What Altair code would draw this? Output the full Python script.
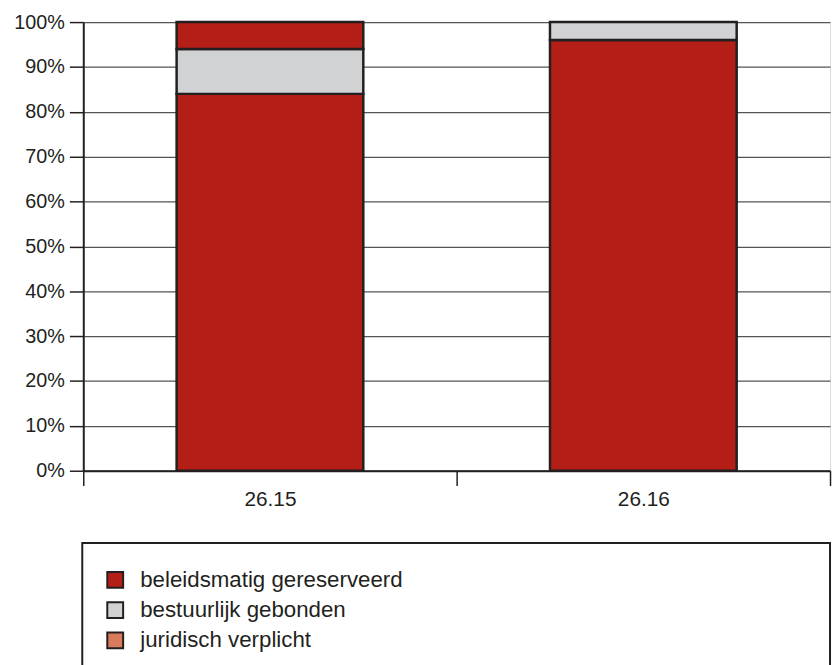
import altair as alt
import pandas as pd

categories = ["26.15", "26.16"]
series = ["beleidsmatig gereserveerd", "bestuurlijk gebonden", "juridisch verplicht"]
colors = ["#b31f17", "#d1d2d4", "#d97a5c"]

seg_bar = ["26.15", "26.15", "26.15", "26.16", "26.16"]
seg_series = ["beleidsmatig gereserveerd", "bestuurlijk gebonden", "beleidsmatig gereserveerd",
              "beleidsmatig gereserveerd", "bestuurlijk gebonden"]
seg_value = [84, 10, 6, 96, 4]
seg_order = [1, 2, 3, 1, 2]
y_ticks = list(range(0, 101, 10))

df = pd.DataFrame({"bar": seg_bar, "serie": seg_series, "waarde": seg_value, "volgorde": seg_order})

FONT = "Liberation Sans"
INK = "#231f20"

bars = alt.Chart(df).mark_bar(
    width=alt.RelativeBandSize(0.5), stroke=INK, strokeWidth=2.5
).encode(
    x=alt.X("bar:N", sort=categories,
            scale=alt.Scale(domain=categories, paddingInner=0, paddingOuter=0),
            axis=alt.Axis(title=None, labelAngle=0, tickBand="extent", tickSize=15,
                          tickColor=INK, tickWidth=1.5, domainColor=INK, domainWidth=2,
                          labelPadding=3, labelFontSize=21, labelColor=INK, labelFont=FONT,
                          grid=False)),
    y=alt.Y("waarde:Q", stack="zero",
            scale=alt.Scale(domain=[0, 100], nice=False),
            axis=alt.Axis(title=None, values=y_ticks, labelExpr="datum.value + '%'",
                          tickSize=14, tickColor=INK, tickWidth=1.5, domainColor=INK,
                          domainWidth=2, grid=True, gridColor="#555555", gridWidth=1.3,
                          labelFontSize=20, labelColor=INK, labelFont=FONT, labelPadding=5)),
    order=alt.Order("volgorde:Q"),
    color=alt.Color("serie:N", scale=alt.Scale(domain=series, range=colors),
                    legend=alt.Legend(orient="none", legendX=21, legendY=552, title=None,
                                      symbolType="square", symbolSize=256,
                                      symbolStrokeColor=INK, symbolStrokeWidth=2,
                                      labelFontSize=22.5, labelFont=FONT, labelColor=INK,
                                      labelLimit=500, rowPadding=5.5, labelOffset=14,
                                      padding=0)),
)

box = alt.Chart(pd.DataFrame({"k": [0]})).mark_rect(
    fill=None, stroke=INK, strokeWidth=2
).encode(
    x=alt.value(-1), x2=alt.value(754), y=alt.value(526), y2=alt.value(720)
)

chart = alt.layer(bars, box).properties(
    width=754, height=453,
    padding={"left": 76, "top": 11, "right": 2, "bottom": 200},
    autosize=alt.AutoSizeParams(type="none"),
).configure_view(stroke=INK, strokeWidth=2).configure(font=FONT)

chart.save("out.html", embed_options={"renderer": "svg", "actions": False})
